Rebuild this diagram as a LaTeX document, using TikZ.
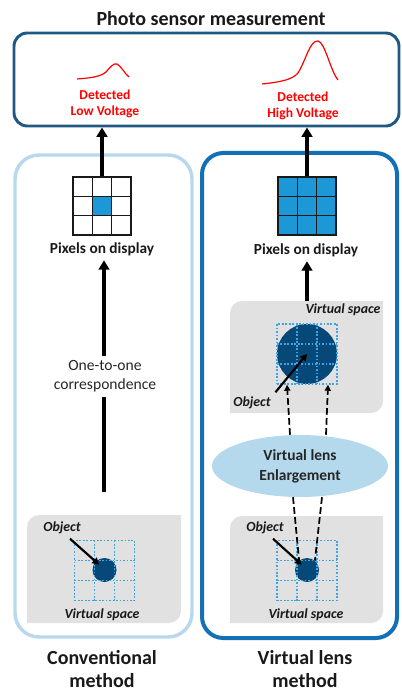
\documentclass[tikz,border=0pt]{standalone}
\usepackage{fontspec}
\setmainfont{Carlito}
\usetikzlibrary{arrows.meta,shapes.geometric}

\definecolor{sensorblue}{RGB}{31,88,130}
\definecolor{convblue}{RGB}{184,216,238}
\definecolor{lensblue}{RGB}{20,112,180}
\definecolor{pixblue}{RGB}{28,152,214}
\definecolor{objblue}{RGB}{6,72,120}
\definecolor{ellblue}{RGB}{180,216,236}
\definecolor{spacegray}{RGB}{225,225,225}
\definecolor{dotblue}{RGB}{60,165,228}

\begin{document}
\begin{tikzpicture}[x=0.75pt,y=-0.75pt,
  bigarrow/.style={line width=2.5pt,-{Triangle[length=7pt,width=8pt]}},
  objarrow/.style={line width=1.6pt,-{Triangle[length=5pt,width=5.5pt]}},
  lensarrow/.style={line width=1.3pt,dash pattern=on 5pt off 2.5pt,-{Triangle[length=4.5pt,width=4.5pt]}},
  lensray/.style={line width=1.3pt,dash pattern=on 5pt off 2.5pt},
  pixgrid/.style={draw=black!90,line width=1.1pt,minimum size=43.5pt,inner sep=0pt},
  pixline/.style={black!90,line width=1.1pt},
  vgrid/.style={draw=dotblue,line width=1.1pt,dash pattern=on 1.3pt off 1.3pt,minimum size=45pt,inner sep=0pt},
  vline/.style={dotblue,line width=1.1pt,dash pattern=on 1.3pt off 1.3pt},
  obj/.style={circle,fill=objblue,inner sep=0pt},
  vlabel/.style={font=\fontsize{10.4}{12}\selectfont\bfseries\itshape,text=black!90},
  detlabel/.style={font=\fontsize{10.2}{12}\selectfont\bfseries,text=red,align=center},
  pixlabel/.style={font=\fontsize{11.5}{14}\selectfont\bfseries,text=black!90},
  method/.style={font=\fontsize{15}{17.5}\selectfont\bfseries,text=black!90,align=center,inner sep=0pt}]
  \useasboundingbox (0,0) rectangle (401,691);
  % photo sensor
  \node[font=\fontsize{15}{18}\selectfont\bfseries,text=black!90] (title) at (211,19) {Photo sensor measurement};
  \node[draw=sensorblue,line width=2.2pt,rounded corners=10pt,minimum width=288.75pt,minimum height=69.75pt,inner sep=0pt] (sensor) at (206.5,79.5) {};
  \draw[red,line width=0.9pt] (77,79) .. controls (90,78) and (100,77) .. (106,72) .. controls (111,66) and (114,63) .. (117,64) .. controls (121,66) and (125,74) .. (129,77);
  \draw[red,line width=0.9pt] (262,84) .. controls (280,82) and (292,80) .. (298,73) .. controls (306,60) and (310,40) .. (318,41) .. controls (325,42) and (330,70) .. (338,80);
  \node[detlabel] (detL) at (105,104) {Detected\\Low Voltage};
  \node[detlabel] (detR) at (303,105.5) {Detected\\High Voltage};
  % method frames
  \draw[convblue,line width=2.6pt,rounded corners=18pt] (15,155) rectangle (192,637);
  \draw[lensblue,line width=3pt,rounded corners=16pt] (202,153) rectangle (397,638);
  % virtual spaces
  \fill[spacegray] (27,623) -- (27,527) arc[start angle=180,end angle=270,radius=12] -- (181,515) -- (181,611) arc[start angle=0,end angle=90,radius=12] -- cycle;
  \fill[spacegray] (230,623) -- (230,528) arc[start angle=180,end angle=270,radius=12] -- (383,516) -- (383,611) arc[start angle=0,end angle=90,radius=12] -- cycle;
  \fill[spacegray] (230,413) -- (230,313) arc[start angle=180,end angle=270,radius=12] -- (383,301) -- (383,401) arc[start angle=0,end angle=90,radius=12] -- cycle;
  % conventional: pixels
  \node[pixgrid] (pixL) at (102,206) {};
  \fill[pixblue] (92.3,196.3) rectangle (111.7,215.7);
  \foreach \d in {-9.7,9.7} {
    \draw[pixline] (102+\d,177) -- (102+\d,235);
    \draw[pixline] (73,206+\d) -- (131,206+\d);
  }
  \node[pixgrid] at (102,206) {};
  \node[pixlabel] (lblL) at (102,249) {Pixels on display};
  % virtual lens: pixels
  \node[pixgrid,fill=pixblue] (pixR) at (307,206) {};
  \foreach \d in {-9.7,9.7} {
    \draw[pixline] (307+\d,177) -- (307+\d,235);
    \draw[pixline] (278,206+\d) -- (336,206+\d);
  }
  \node[pixlabel] (lblR) at (306,250) {Pixels on display};
  % objects in virtual space
  \node[obj,minimum size=18pt] (circL) at (104.5,570) {};
  \node[obj,minimum size=18pt] (circR) at (307,570) {};
  \node[obj,minimum size=45pt] (circU) at (307,354) {};
  \node[vgrid] (gridL) at (104.5,570.5) {};
  \node[vgrid] (gridR) at (307,570.5) {};
  \node[vgrid] (gridU) at (307,354) {};
  \foreach \d in {-10,10} {
    \draw[vline] (104.5+\d,540.5) -- (104.5+\d,600.5);
    \draw[vline] (74.5,570.5+\d) -- (134.5,570.5+\d);
    \draw[vline] (307+\d,540.5) -- (307+\d,600.5);
    \draw[vline] (277,570.5+\d) -- (337,570.5+\d);
    \draw[vline] (307+\d,324) -- (307+\d,384);
    \draw[vline] (277,354+\d) -- (337,354+\d);
  }
  \node[vlabel] (vsL) at (102,615) {Virtual space};
  \node[vlabel] (vsR) at (306,615) {Virtual space};
  \node[vlabel] (vsU) at (343,310) {Virtual space};
  \node[vlabel] (objL) at (62,528) {Object};
  \node[vlabel] (objR) at (265,528) {Object};
  \node[vlabel] (objU) at (252,403) {Object};
  \draw[objarrow] ([xshift=6pt]objL.south) -- ([xshift=-4pt,yshift=4pt]circL.center);
  \draw[objarrow] ([xshift=6pt]objR.south) -- ([xshift=-4pt,yshift=4pt]circR.center);
  \draw[objarrow] (objU.north east) -- (circU.center);
  % lens
  \node[ellipse,fill=ellblue,minimum width=132pt,minimum height=46.5pt,inner sep=0pt,font=\fontsize{11.6}{15}\selectfont\bfseries,text=black!85,align=center] (lens) at (300,466) {Virtual lens\\Enlargement};
  \draw[lensray] ([xshift=-5.25pt]lens.south) -- (circR.130);
  \draw[lensray] ([xshift=16.5pt]lens.south) -- (circR.50);
  \draw[lensarrow] ([xshift=-7.5pt]lens.north) -- ([xshift=-15pt]gridU.south);
  \draw[lensarrow] ([xshift=19.5pt]lens.north) -- ([xshift=15.75pt]gridU.south);
  % arrows up
  \node[font=\fontsize{11.7}{14.25}\selectfont,text=black!85,align=center] (corr) at (105,376.5) {One-to-one\\correspondence};
  \coordinate (startL) at (104,492);
  \coordinate (startR) at (307,301);
  \draw[line width=2.5pt] (startL) -- (startL |- corr.south);
  \draw[bigarrow] (startL |- corr.north) -- (startL |- lblL.south);
  \draw[bigarrow] (startR) -- (startR |- lblR.south);
  \draw[bigarrow] (pixL.north) -- (pixL.north |- sensor.south);
  \draw[bigarrow] (pixR.north) -- (pixR.north |- sensor.south);
  % method names
  \node[method] (methL) at (102,669) {Conventional\\method};
  \node[method] (methR) at (305,669) {Virtual lens\\method};
\end{tikzpicture}
\end{document}
